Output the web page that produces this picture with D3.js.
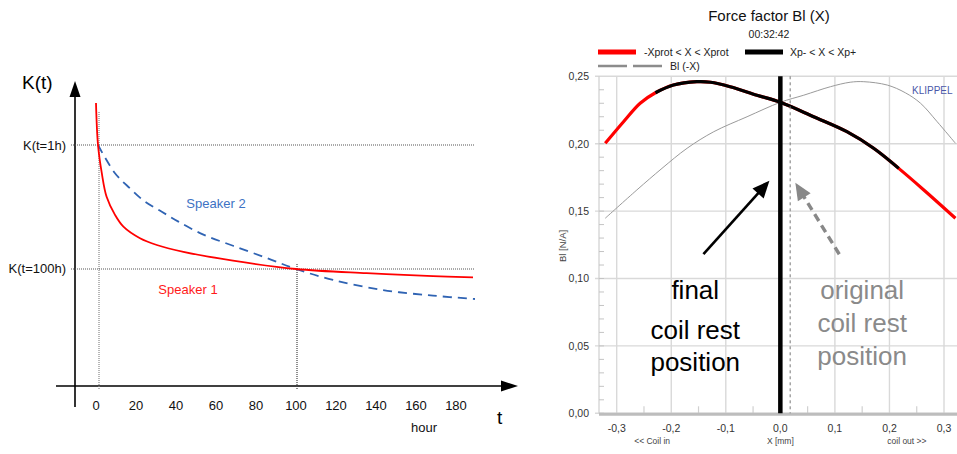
<!DOCTYPE html>
<html>
<head>
<meta charset="utf-8">
<script src="https://cdn.jsdelivr.net/npm/d3@7"></script>
<style>
  body { margin: 0; background: #fff; }
  svg { display: block; font-family: "Liberation Sans", Arial, sans-serif; }
</style>
</head>
<body>
<svg id="chart" width="957" height="454"></svg>
<script>
// ---- left chart: aging curves K(t) ----
const hourTicks = [0, 20, 40, 60, 80, 100, 120, 140, 160, 180];
const speaker1T = [0, 1, 2.9, 5.3, 9.5, 13.7, 22, 30.4, 43.7, 68.5, 100, 135.3, 168.5, 188.5];
const speaker1K = [1.174, 1.0, 0.883, 0.785, 0.71, 0.661, 0.613, 0.585, 0.557, 0.52, 0.4855, 0.468, 0.456, 0.4506];
const speaker2T = [1, 9.5, 17, 24.5, 32.9, 41.2, 53.7, 68.5, 85.4, 100, 118.5, 143.5, 168.5, 189.5];
const speaker2K = [1.0, 0.883, 0.82, 0.765, 0.723, 0.682, 0.628, 0.582, 0.531, 0.4855, 0.44, 0.398, 0.375, 0.361];
const refHours = [1, 100];
const refLabels = ['K(t=1h)', 'K(t=100h)'];

// ---- right chart: force factor Bl(X) ----
const blX = [-0.321, -0.2875, -0.257, -0.229, -0.196, -0.153, -0.128, -0.092, -0.043, 0, 0.061, 0.122, 0.171, 0.217, 0.263, 0.321];
const blVal = [0.2003, 0.2163, 0.23, 0.2378, 0.2435, 0.246, 0.2456, 0.2423, 0.236, 0.2307, 0.22, 0.2089, 0.1966, 0.1817, 0.1657, 0.1447];
const xpRange = [-0.23, 0.22];       // black part, Xp- < X < Xp+
const restFinal = 0.0;
const restOriginal = 0.018;
const blTicks = [0, 0.05, 0.1, 0.15, 0.2, 0.25];
const xTicks = [-0.3, -0.2, -0.1, 0, 0.1, 0.2, 0.3];

const d3 = window.d3;
const svg = d3.select('#chart');
const smooth = d3.curveCatmullRom.alpha(0.5);

/* ================= left chart ================= */
const xL = d3.scaleLinear().domain([0, 100]).range([96, 296]);
const yL = d3.scaleLinear().domain([0, 1]).range([386, 145]);
const left = svg.append('g');

// arrows as axes
left.append('line').attr('x1', 75).attr('x2', 75).attr('y1', 407).attr('y2', 95)
    .attr('stroke', '#000').attr('stroke-width', 1.6);
left.append('path').attr('d', 'M75,81 L69.5,97 L80.5,97 Z').attr('fill', '#000');
left.append('line').attr('x1', 56).attr('x2', 503).attr('y1', 386).attr('y2', 386)
    .attr('stroke', '#000').attr('stroke-width', 1.6);
left.append('path').attr('d', 'M518,386 L501,380.5 L501,391.5 Z').attr('fill', '#000');

// dotted reference lines
refHours.forEach((h, i) => {
  const k = i === 0 ? 1 : speaker1K[speaker1T.indexOf(100)];
  left.append('line').attr('x1', 71).attr('x2', 475)
      .attr('y1', yL(k)).attr('y2', yL(k))
      .attr('stroke', '#555').attr('stroke-width', 1.2).attr('stroke-dasharray', '1,1');
  left.append('line').attr('x1', xL(h) + 1).attr('x2', xL(h) + 1)
      .attr('y1', i === 0 ? 112 : 264).attr('y2', 390)
      .attr('stroke', i === 0 ? '#888' : '#444').attr('stroke-width', 1.2)
      .attr('stroke-dasharray', '1,1');
  left.append('text').attr('x', 66).attr('y', yL(k) + 4.5)
      .attr('text-anchor', 'end').style('font-size', '13px').attr('fill', '#111')
      .text(refLabels[i]);
});

const lineL = d3.line().x((d) => xL(d[0])).y((d) => yL(d[1])).curve(smooth);
left.append('path').datum(d3.zip(speaker2T, speaker2K)).attr('d', lineL)
    .attr('fill', 'none').attr('stroke', '#2f63b3').attr('stroke-width', 1.8)
    .attr('stroke-dasharray', '9,6');
left.append('path').datum(d3.zip(speaker1T, speaker1K)).attr('d', lineL)
    .attr('fill', 'none').attr('stroke', '#ff0000').attr('stroke-width', 1.8);

left.selectAll('.htick').data(hourTicks).join('text')
    .attr('x', (d) => xL(d)).attr('y', 410)
    .attr('text-anchor', 'middle').style('font-size', '13px').attr('fill', '#111')
    .text((d) => d);

left.append('text').attr('x', 22).attr('y', 89).style('font-size', '19px').text('K(t)');
left.append('text').attr('x', 497).attr('y', 424).style('font-size', '19px').text('t');
left.append('text').attr('x', 424).attr('y', 432).attr('text-anchor', 'middle')
    .style('font-size', '13px').attr('fill', '#111').text('hour');
left.append('text').attr('x', 216).attr('y', 208).attr('text-anchor', 'middle')
    .style('font-size', '13px').attr('fill', '#3d72c4').text('Speaker 2');
left.append('text').attr('x', 188).attr('y', 294).attr('text-anchor', 'middle')
    .style('font-size', '13px').attr('fill', '#ff1a1a').text('Speaker 1');

/* ================= right chart ================= */
const xR = d3.scaleLinear().domain([-0.3, 0.3]).range([616.7, 944]);
const yR = d3.scaleLinear().domain([0, 0.25]).range([413.3, 76.3]);
const plotL = 599;
const plotR = 957;
const loc = d3.formatLocale({decimal: ',', thousands: '.', grouping: [3], currency: ['', ''], minus: '-'});
const right = svg.append('g');

// grid
right.selectAll('.hg').data(blTicks).join('line')
    .attr('x1', plotL - 4).attr('x2', plotR).attr('y1', (d) => yR(d)).attr('y2', (d) => yR(d))
    .attr('stroke', '#d9d9d9').attr('stroke-width', 1.4);
right.selectAll('.vg').data(xTicks).join('line')
    .attr('x1', (d) => xR(d)).attr('x2', (d) => xR(d)).attr('y1', yR(0.25)).attr('y2', yR(0))
    .attr('stroke', '#d9d9d9').attr('stroke-width', 1.4);
right.append('line').attr('x1', plotL).attr('x2', plotL).attr('y1', yR(0.25)).attr('y2', yR(0))
    .attr('stroke', '#cfcfcf').attr('stroke-width', 1.2);
right.selectAll('.mt').data(d3.range(0, 0.25, 0.01)).join('line')
    .attr('x1', plotL).attr('x2', plotL + 5).attr('y1', (d) => yR(d)).attr('y2', (d) => yR(d))
    .attr('stroke', '#c4c4c4').attr('stroke-width', 1);
right.selectAll('.bt').data([-0.25, -0.15, -0.05, 0.05, 0.15, 0.25]).join('line')
    .attr('x1', (d) => xR(d)).attr('x2', (d) => xR(d)).attr('y1', yR(0) - 7).attr('y2', yR(0))
    .attr('stroke', '#d0d0d0').attr('stroke-width', 1.2);
right.append('line').attr('x1', plotL).attr('x2', plotR).attr('y1', yR(0) + 1).attr('y2', yR(0) + 1)
    .attr('stroke', '#bdbdbd').attr('stroke-width', 3);

right.selectAll('.yl').data(blTicks).join('text')
    .attr('x', 589).attr('y', (d) => yR(d) + 3.8).attr('text-anchor', 'end')
    .style('font-size', '10.5px').attr('fill', '#333').text(loc.format('.2f'));
right.selectAll('.xl').data(xTicks).join('text')
    .attr('x', (d) => xR(d)).attr('y', yR(0) + 18.5).attr('text-anchor', 'middle')
    .style('font-size', '10.5px').attr('fill', '#333').text(loc.format('.1f'));
[['<< Coil in', -0.235], ['X [mm]', 0], ['coil out >>', 0.232]].forEach(([t, x]) => {
  right.append('text').attr('x', xR(x)).attr('y', yR(0) + 31).attr('text-anchor', 'middle')
      .style('font-size', '8.5px').attr('fill', '#444').text(t);
});
right.append('text').attr('transform', 'translate(566,246) rotate(-90)')
    .attr('text-anchor', 'middle').style('font-size', '9.5px').attr('fill', '#444').text('Bl [N/A]');

// title and legend
right.append('text').attr('x', 769).attr('y', 21).attr('text-anchor', 'middle')
    .style('font-size', '15px').attr('fill', '#111').text('Force factor Bl (X)');
right.append('text').attr('x', 769).attr('y', 38).attr('text-anchor', 'middle')
    .style('font-size', '10.5px').attr('fill', '#222').text('00:32:42');
right.append('line').attr('x1', 598).attr('x2', 636).attr('y1', 52).attr('y2', 52)
    .attr('stroke', '#ff0000').attr('stroke-width', 5);
right.append('text').attr('x', 644).attr('y', 55.5).style('font-size', '10.5px')
    .attr('fill', '#222').text('-Xprot < X < Xprot');
right.append('line').attr('x1', 745).attr('x2', 783).attr('y1', 52).attr('y2', 52)
    .attr('stroke', '#000').attr('stroke-width', 5);
right.append('text').attr('x', 790).attr('y', 55.5).style('font-size', '10.5px')
    .attr('fill', '#222').text('Xp- < X < Xp+');
right.append('line').attr('x1', 598).attr('x2', 662).attr('y1', 66).attr('y2', 66)
    .attr('stroke', '#8c8c8c').attr('stroke-width', 2.5).attr('stroke-dasharray', '29,6');
right.append('text').attr('x', 670).attr('y', 69.5).style('font-size', '10.5px')
    .attr('fill', '#222').text('Bl (-X)');
right.append('text').attr('x', 912).attr('y', 94).style('font-size', '10px')
    .attr('fill', '#4b57a8').text('KLIPPEL');

// curves
const lineR = d3.line().x((d) => xR(d[0])).y((d) => yR(d[1])).curve(smooth);
const blPts = d3.zip(blX, blVal);
right.append('path').datum(blPts.map(([x, v]) => [-x, v]).reverse()).attr('d', lineR)
    .attr('fill', 'none').attr('stroke', '#9a9a9a').attr('stroke-width', 1);
right.append('path').datum(blPts).attr('d', lineR)
    .attr('fill', 'none').attr('stroke', '#ff0000').attr('stroke-width', 3.2);
right.append('path').datum(blPts.filter(([x]) => x >= xpRange[0] && x <= xpRange[1])).attr('d', lineR)
    .attr('fill', 'none').attr('stroke', '#000').attr('stroke-width', 3.2);

// rest positions
right.append('line').attr('x1', xR(restOriginal)).attr('x2', xR(restOriginal))
    .attr('y1', yR(0.25)).attr('y2', yR(0))
    .attr('stroke', '#777').attr('stroke-width', 1).attr('stroke-dasharray', '3,3');
right.append('line').attr('x1', xR(restFinal)).attr('x2', xR(restFinal))
    .attr('y1', yR(0.25)).attr('y2', yR(0))
    .attr('stroke', '#000').attr('stroke-width', 4.5);

// arrows
function arrow(from, to, color, width, dash) {
  const x1 = xR(from[0]), y1 = yR(from[1]), x2 = xR(to[0]), y2 = yR(to[1]);
  const a = Math.atan2(y2 - y1, x2 - x1);
  const len = 17, half = 7.5;
  const bx = x2 - len * Math.cos(a), by = y2 - len * Math.sin(a);
  right.append('line').attr('x1', x1).attr('y1', y1).attr('x2', bx + 2 * Math.cos(a)).attr('y2', by + 2 * Math.sin(a))
      .attr('stroke', color).attr('stroke-width', width).attr('stroke-dasharray', dash);
  const px = -Math.sin(a) * half, py = Math.cos(a) * half;
  right.append('path')
      .attr('d', `M${x2},${y2} L${bx + px},${by + py} L${bx - px},${by - py} Z`)
      .attr('fill', color);
}
arrow([-0.141, 0.118], [-0.02, 0.1725], '#000', 2.6, null);
arrow([0.108, 0.118], [0.0275, 0.171], '#888', 3.4, '8,5');

// annotation text
[['final', 299], ['coil rest', 339], ['position', 371]].forEach(([t, y]) => {
  right.append('text').attr('x', xR(-0.156)).attr('y', y).attr('text-anchor', 'middle')
      .style('font-size', '26px').attr('fill', '#000').text(t);
});
[['original', 299], ['coil rest', 332], ['position', 365]].forEach(([t, y]) => {
  right.append('text').attr('x', xR(0.15)).attr('y', y).attr('text-anchor', 'middle')
      .style('font-size', '26px').attr('fill', '#8a8a8a').text(t);
});
</script>
</body>
</html>
